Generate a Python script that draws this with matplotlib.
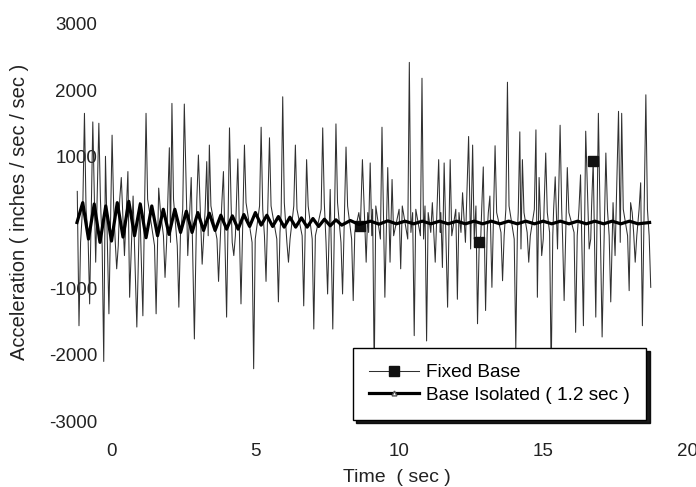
import matplotlib
matplotlib.use("Agg")
import matplotlib.pyplot as plt
import numpy as np

plt.rcParams['font.family'] = ['Liberation Sans', 'DejaVu Sans']

# Fixed base response: spike peaks & troughs (time in sec, acceleration in in/s/s)
fixed_t = [-1.19, -1.13, -0.94, -0.76, -0.65, -0.55, -0.44, -0.27, -0.21, -0.09, 0.02, 0.18, 0.34,
           0.45, 0.57, 0.63, 0.75, 0.88, 0.98, 1.09, 1.2, 1.55, 1.64, 1.86, 2.01, 2.05, 2.1, 2.34,
           2.53, 2.65, 2.77, 2.88, 3.02, 3.15, 3.31, 3.36, 3.4, 3.72, 3.89, 4.0, 4.1, 4.25, 4.39,
           4.5, 4.62, 4.94, 5.2, 5.37, 5.49, 5.8, 5.95, 6.15, 6.39, 6.68, 6.78, 7.03, 7.34, 7.51,
           7.6, 7.69, 7.8, 8.03, 8.15, 8.4, 8.65, 8.72, 8.85, 8.99, 9.13, 9.4, 9.5, 9.6, 9.68, 9.75,
           10.05, 10.35, 10.52, 10.79, 10.95, 11.15, 11.25, 11.37, 11.5, 11.56, 11.68, 11.77, 12.02,
           12.2, 12.3, 12.41, 12.48, 12.55, 12.72, 12.78, 12.92, 13.0, 13.15, 13.22, 13.33, 13.59,
           13.76, 14.05, 14.19, 14.23, 14.28, 14.5, 14.75, 14.8, 14.86, 14.95, 15.09, 15.28, 15.42,
           15.5, 15.59, 15.73, 15.84, 16.13, 16.3, 16.4, 16.48, 16.6, 16.74, 16.83, 16.92, 17.05,
           17.18, 17.35, 17.43, 17.5, 17.62, 17.68, 17.73, 17.99, 18.04, 18.2, 18.39, 18.45, 18.57,
           18.74]
fixed_a = [470, -1560, 1650, -1230, 1520, -600, 1500, -2100, 1000, -1380, 1320, -700, 680,
           -500, 770, -1130, 400, -1580, 300, -1410, 1650, -1380, 520, -830, 1130, -300, 1800, -1280,
           1790, -500, 680, -1760, 1020, -630, 920, -200, 1170, -890, 770, -1430, 1430, -500, 960,
           -1230, 1170, -2210, 1440, -890, 1280, -1200, 1900, -600, 1170, -1260, 950, -1610, 1430, -1080,
           500, -1610, 1490, -1080, 1140, -1180, -50, 950, -600, 900, -2300, 1440, -1130, 830, -600, 650,
           -700, 2420, -1710, 2180, -1790, 300, -600, 950, -680, 900, -1280, 950, -1160,
           450, -300, 1300, -400, 1170, -1530, -290, 840, -1330, 400, -980, 1160, -880,
           2120, -1910, 1370, -400, 950, -600, 1400, -1130, 680, -500, 1050, -2300, 690,
           -400, 1470, -1180, 830, -1660, 720, -1560, 1380, -400, 930, -1430, 1650, -1730,
           1050, -1200, 300, -500, 1680, -300, 1650, -1030, 300, -600, 600, -1560, 1930,
           -980]
# small baseline ripple level read between consecutive spikes
fixed_mid = [250, -300, 200, -350, 300, -250, 350, -200, 300, -300, 250, -350, 200,
             -300, 350, -250, 300, -200, 250, -300, 350, -250, 200, -300, 300, -250, 350, -200,
             300, -250, 200, -350, 250, -200, 300, -150, 250, -300, 200, -250, 300, -200, 250,
             -200, 300, -250, 200, -300, 250, -150, 300, -250, 200, -300, 250, -200, 300, -250,
             200, -250, 300, -200, 250, -150, 200, -250, 150, -200, 250, -150, 200, -250, 150, -200,
             250, -150, 200, -250, 150, -200, 250, -150, 200, -250, 150, -200, 150,
             -200, 250, -150, 200, -250, 150, -200, 250, -150, 200, -250, 150, -200,
             250, -150, 200, -250, 150, -200, 250, -150, 200, -250, 150, -200, 250,
             -150, 200, -250, 150, -200, 250, -150, 200, -250, 150, -200, 250, -150,
             200, -250, 150, -200, 250, -150, 200, -250, 150, -200, 250, -150, 200]
fixed_marker_t = [8.65, 12.78, 16.74]

# Base isolated response
iso_t = [-1.2, -1.0, -0.8, -0.6, -0.4, -0.2, 0.0, 0.2, 0.4, 0.6, 0.8, 1.0, 1.2, 1.4, 1.6, 1.8,
         2.0, 2.2, 2.4, 2.6, 2.8, 3.0, 3.2, 3.4, 3.6, 3.8, 4.0, 4.2, 4.4, 4.6, 4.8, 5.0, 5.2, 5.4,
         5.6, 5.8, 6.0, 6.2, 6.4, 6.6, 6.8, 7.0, 7.2, 7.4, 7.6, 7.8, 8.0, 8.3, 8.6, 9.0, 9.3, 9.6,
         9.9, 10.2, 10.5, 10.8, 11.1, 11.4, 11.7, 12.0, 12.3, 12.6, 12.9, 13.2, 13.5, 13.8, 14.1,
         14.4, 14.7, 15.0, 15.3, 15.6, 15.9, 16.2, 16.5, 16.8, 17.1, 17.4, 17.7, 18.0, 18.3, 18.7]
iso_a = [0, 300, -250, 280, -300, 250, -280, 300, -220, 320, -200, 280, -230, 250, -200, 200,
         -180, 200, -150, 170, -150, 150, -120, 140, -120, 110, -100, 100, -100, 120, -60, 150, -40, 110,
         -60, 90, -70, 80, -70, 70, -70, 60, -60, 50, -50, 40, -40, 30, -30, 20, -25, 25,
         -20, 20, -20, 20, -20, 20, -20, 20, -20, 20, -20, 20, -20, 20, -20,
         20, -20, 20, -20, 20, -20, 20, -20, 20, -20, 20, -20, 20, -20, 0]

x_ticks = [0, 5, 10, 15, 20]
y_ticks = [-3000, -2000, -1000, 1000, 2000, 3000]

# build spike polyline: each spike returns quickly to the baseline ripple
pts_t, pts_a = [], []
for i in range(len(fixed_t)):
    pts_t.append(fixed_t[i]); pts_a.append(fixed_a[i])
    if i < len(fixed_t) - 1 and fixed_t[i + 1] - fixed_t[i] > 0.13:
        m = fixed_mid[i]
        pts_t += [fixed_t[i] + 0.055, fixed_t[i + 1] - 0.055]
        pts_a += [m, -m]

fig = plt.figure(figsize=(6.96, 4.87), dpi=100)
ax_l, ax_r = 74.1, 687.0
ax = fig.add_axes([ax_l / 696, (487 - 421) / 487, (ax_r - ax_l) / 696, (421 - 24) / 487])

pt = np.array(pts_t)
midx = [int(np.argmin(np.abs(pt - m))) for m in fixed_marker_t]
ax.plot(pts_t, pts_a, color='#303030', lw=0.75, marker='s', markersize=6.5,
        markevery=midx, markerfacecolor='#111111', markeredgecolor='#111111',
        label='Fixed Base', zorder=2)
ax.plot(iso_t, iso_a, color='black', lw=2.3, marker='^', markersize=3.5,
        markevery=[], markerfacecolor='white', markeredgecolor='#555555',
        label='Base Isolated ( 1.2 sec )', zorder=3)

ax.set_xlim(-1.3, 20)
ax.set_ylim(-3000, 3000)
ax.set_xticks(x_ticks)
ax.set_xticklabels([str(v) for v in x_ticks])
ax.set_yticks(y_ticks)
ax.set_yticklabels([str(v) for v in y_ticks])
for s in ax.spines.values():
    s.set_visible(False)
ax.tick_params(axis='both', length=0, labelsize=13.5, colors='#222222')
ax.tick_params(axis='y', pad=-16.5)
ax.tick_params(axis='x', pad=16)
ax.patch.set_alpha(0)

fig.text(397 / 696, 1 - 478 / 487, 'Time  ( sec )', ha='center', va='center', fontsize=14, color='#222222')
fig.text(20 / 696, 1 - 212 / 487, 'Acceleration ( inches / sec / sec )', ha='center', va='center',
         rotation=90, fontsize=14.5, color='#222222')

leg = ax.legend(loc='upper left', bbox_to_anchor=(353 / 696, 1 - 348 / 487),
                bbox_transform=fig.transFigure, borderaxespad=0, fontsize=13.7,
                frameon=True, fancybox=False, edgecolor='black', handlelength=2.6,
                borderpad=0.85, labelspacing=0.25, handletextpad=0.4,
                shadow={'ox': 2.5, 'oy': -2.5, 'color': 'black', 'alpha': 0.9})
leg.get_frame().set_linewidth(1.0)
leg.set_zorder(10)

fig.savefig('out.png', dpi=100)
